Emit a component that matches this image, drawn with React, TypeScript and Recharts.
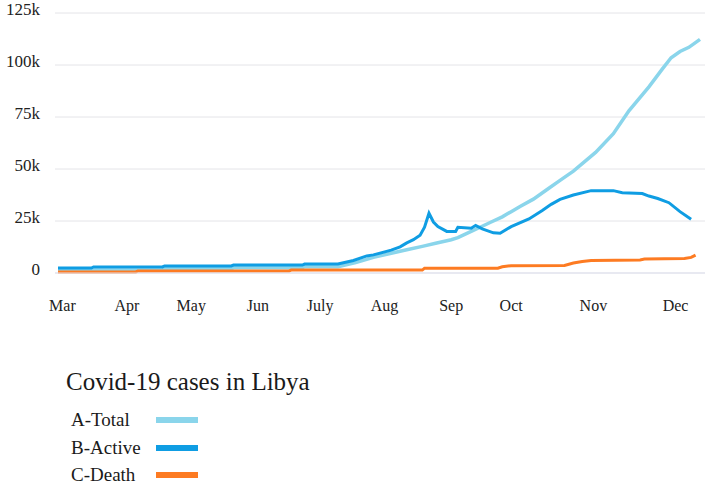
import React from 'react';
import { LineChart, Line, XAxis, YAxis, CartesianGrid } from 'recharts';

// x = days since 1 March
const monthTicks = [2, 31, 60, 90, 118, 147, 177, 204, 241, 278];
const monthLabels = ['Mar', 'Apr', 'May', 'Jun', 'July', 'Aug', 'Sep', 'Oct', 'Nov', 'Dec'];
const yTicks = [0, 25000, 50000, 75000, 100000, 125000];

const totalData = [
  [0, 1500], [47, 1500], [48, 2000], [78, 2000], [79, 2500], [110, 2500], [111, 3000], [126, 3000],
  [134, 5000], [142, 7500], [150, 9500], [157, 11200], [164, 12800], [170, 14300], [177, 16000],
  [180, 17000], [186, 20000], [190, 22000], [195, 24500], [200, 27000], [204, 29500], [208, 32000],
  [214, 35500], [220, 40000], [226, 44500], [232, 49000], [242, 58000], [250, 67000], [257, 78000],
  [266, 89500], [272, 98000], [276, 103500], [280, 106500], [284, 108500], [289, 112300],
];

const activeData = [
  [0, 2400], [15, 2400], [16, 2900], [47, 2900], [48, 3400], [78, 3400], [79, 3800], [110, 3800],
  [111, 4300], [126, 4300], [133, 6000], [139, 8200], [142, 8700], [150, 11000], [154, 12600],
  [157, 14500], [160, 16000], [163, 18200], [165, 22000], [167, 28700], [169, 24500], [171, 22300],
  [175, 20000], [179, 20000], [180, 22000], [186, 21500], [188, 22900], [191, 21200], [196, 19300],
  [199, 19100], [204, 22300], [212, 26000], [218, 30000], [222, 33000], [226, 35400], [232, 37500],
  [240, 39600], [250, 39600], [254, 38600], [263, 38200], [266, 37000], [270, 35800], [275, 33800],
  [280, 29500], [285, 25800],
];

const deathData = [
  [0, 500], [35, 500], [36, 1000], [104, 1000], [105, 1400], [164, 1400], [165, 2300], [198, 2300],
  [200, 3000], [204, 3500], [228, 3600], [232, 4800], [236, 5500], [240, 6000], [262, 6300],
  [264, 6700], [282, 7000], [285, 7500], [287, 8600],
];

const seriesNames = ['A-Total', 'B-Active', 'C-Death'];
const seriesColors = ['#8ad5eb', '#0f9de3', '#fd7b22'];
const legendTitle = 'Covid-19 cases in Libya';

const toRows = (arr: number[][]) => arr.map(([day, value]) => ({ day, value }));

const FONT = '"Liberation Serif", "Times New Roman", serif';

const formatY = (v: number) => (v === 0 ? '0' : `${v / 1000}k`);

const YTick = (props: any) => {
  const { x, y, payload } = props;
  return (
    <text x={x} y={y} dy={2} textAnchor="end" fill="#222" style={{ fontFamily: FONT, fontSize: 17 }}>
      {formatY(payload.value)}
    </text>
  );
};

export default function App() {
  const seriesData = [toRows(totalData), toRows(activeData), toRows(deathData)];
  return (
    <div style={{ position: 'absolute', left: 0, top: 0, width: 708, height: 484, background: '#fff', fontFamily: FONT }}>
      <LineChart width={708} height={484} margin={{ top: 13, right: 3, left: 0, bottom: 161 }}>
        <CartesianGrid horizontal vertical={false} stroke="#e4e4e8" />
        <XAxis
          type="number"
          dataKey="day"
          domain={[0, 289]}
          ticks={monthTicks}
          tickFormatter={(v: number) => monthLabels[monthTicks.indexOf(v)]}
          padding={{ left: 3, right: 5 }}
          height={50}
          tickLine={false}
          tickSize={0}
          tickMargin={27}
          axisLine={{ stroke: '#dfe1ef' }}
          tick={{ fill: '#222', fontSize: 16, fontFamily: FONT }}
          interval={0}
          allowDuplicatedCategory={false}
        />
        <YAxis
          type="number"
          domain={[0, 125000]}
          ticks={yTicks}
          width={55}
          axisLine={false}
          tickLine={false}
          tickSize={0}
          tickMargin={15}
          tick={<YTick />}
        />
        {seriesData.map((d, i) => (
          <Line
            key={seriesNames[i]}
            data={d}
            dataKey="value"
            name={seriesNames[i]}
            type="linear"
            stroke={seriesColors[i]}
            strokeWidth={i === 0 ? 3.5 : 3}
            dot={false}
            isAnimationActive={false}
          />
        ))}
      </LineChart>
      <div style={{ position: 'absolute', left: 66, top: 368, fontSize: 25, color: '#1a1a1a', whiteSpace: 'nowrap' }}>
        {legendTitle}
      </div>
      {seriesNames.map((name, i) => (
        <div key={name} style={{ position: 'absolute', left: 71, top: 408 + i * 27.5, height: 24, width: 140, fontSize: 19, color: '#1a1a1a' }}>
          <span style={{ position: 'absolute', left: 0, top: 0, lineHeight: '24px', whiteSpace: 'nowrap' }}>{name}</span>
          <span style={{ position: 'absolute', left: 85, top: 9, width: 42, height: 6, background: seriesColors[i] }} />
        </div>
      ))}
    </div>
  );
}
